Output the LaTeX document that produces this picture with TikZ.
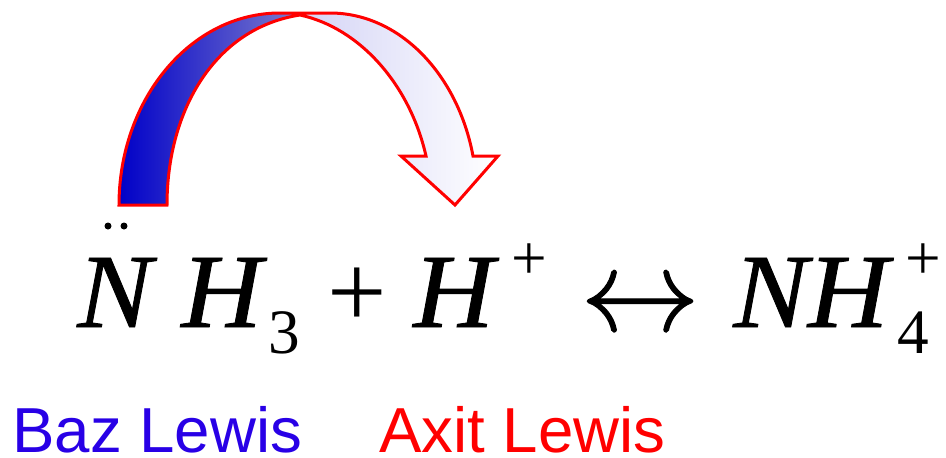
\documentclass[tikz,border=0pt]{standalone}
\usepackage{fontspec}
\setmainfont{Liberation Serif}
\newfontfamily\labelfont{Liberation Sans}
\newfontface\arrowfont[FakeBold=0.8]{Latin Modern Math}
\newfontface\eqit[FakeBold=0.8,FakeStretch=1.06]{Liberation Serif Italic}
\usepackage{xcolor}
\usetikzlibrary{arrows.meta,positioning}
\definecolor{bazblue}{RGB}{40,0,230}
\definecolor{arcblue}{RGB}{0,0,200}
\definecolor{arcmid}{RGB}{125,125,205}
\begin{document}
\begin{tikzpicture}[x=0.02cm,y=-0.02cm,
  every node/.style={inner sep=0pt,anchor=base west},
  big/.style={font=\fontsize{60}{60}\selectfont},
  bigit/.style={font=\fontsize{60}{60}\eqit},
  small/.style={font=\fontsize{36}{36}\selectfont},
  lbl/.style={font=\fontsize{36.2}{36.2}\selectfont\labelfont},
  dot/.style={circle,fill=black,minimum size=0.14cm,anchor=center},
  e/.style={draw=red,line width=0.06cm,line join=miter}]
 \useasboundingbox (0,0) rectangle (946,457);
 % arrow, two gradient parts and the outline
 \shade[left color=arcblue,right color=arcmid]
   (119,205) .. controls (119,100) and (190,13) .. (280,13) -- (300,13) -- (300,15) .. controls (215,28) and (167,110) .. (167,205) -- cycle;
 \shade[left color=arcblue!17!white,right color=white]
   (300,13) -- (330,13) .. controls (400,13) and (458,75) .. (473,156) -- (498,156) -- (455,205) -- (401,156) -- (426,156) .. controls (410,85) and (360,28) .. (300,15) -- cycle;
 \draw[e] (119,205) .. controls (119,100) and (190,13) .. (280,13) -- (330,13) .. controls (400,13) and (458,75) .. (473,156) -- (498,156) -- (455,205) -- (401,156) -- (426,156) .. controls (410,85) and (360,28) .. (300,15) .. controls (215,28) and (167,110) .. (167,205) -- cycle;
 % equation
 \node[dot] (d1) at (108,226) {}; \node[dot] (d2) at (124,226) {};
 \node[bigit] (n) at (77,327) {N};
 \node[bigit] (h) at (181,327) {H};
 \node[small] (three) at (268,353) {3};
 \node[big] (plus) at (327,327) {+};
 \node[bigit] (hp) at (413,327) {H};
 \node[small] (hc) at (511,279) {+};
 \node[font=\fontsize{68}{68}\arrowfont] (eq) at (580,331) {↔};
 \node[bigit] (nh) at (733,327) {NH};
 \node[small] (nc) at (905,279) {+};
 \node[small] (four) at (897,353) {4};
 % labels
 \node[lbl,text=bazblue] (baz) at (12,452) {Baz Lewis};
 \node[lbl,text=red] (axit) at (379,452) {Axit Lewis};
\end{tikzpicture}
\end{document}
